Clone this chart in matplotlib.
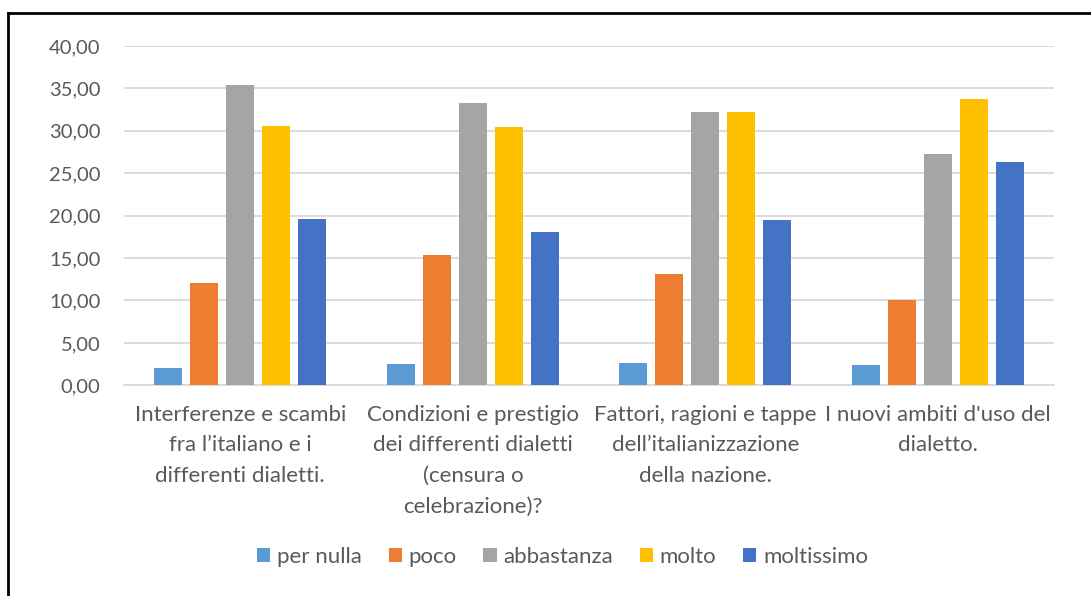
import matplotlib.pyplot as plt
import numpy as np
from matplotlib.ticker import FuncFormatter, MultipleLocator
from matplotlib.lines import Line2D

plt.rcParams['font.family'] = ['Lato', 'DejaVu Sans']

# dati
categories = [
    "Interferenze e scambi\nfra l\u2019italiano e i\ndifferenti dialetti.",
    "Condizioni e prestigio\ndei differenti dialetti\n(censura o\ncelebrazione)?",
    "Fattori, ragioni e tappe\ndell\u2019italianizzazione\ndella nazione.",
    "I nuovi ambiti d'uso del\ndialetto.",
]
series_names = ['per nulla', 'poco', 'abbastanza', 'molto', 'moltissimo']
per_nulla = [2.07, 2.55, 2.63, 2.43]
poco = [12.06, 15.37, 13.16, 10.10]
abbastanza = [35.37, 33.25, 32.26, 27.27]
molto = [30.54, 30.50, 32.26, 33.70]
moltissimo = [19.60, 18.08, 19.46, 26.30]
series_values = [per_nulla, poco, abbastanza, molto, moltissimo]

colors = ['#5B9BD5', '#ED7D31', '#A5A5A5', '#FFC000', '#4472C4']
text_color = '#595959'
grid_color = '#D9D9D9'

fig = plt.figure(figsize=(10.91, 5.96), dpi=100)
ax = fig.add_axes([0.1137, 0.3535, 0.8525, 0.5693])

x = np.arange(len(categories))
step = 0.1547
width = 0.1203
for i, (name, vals) in enumerate(zip(series_names, series_values)):
    ax.bar(x + (i - 2) * step, vals, width, label=name, color=colors[i], zorder=3)

ax.set_xlim(-0.5, len(categories) - 0.5)
ax.set_ylim(0, 40)
ax.yaxis.set_major_locator(MultipleLocator(5))
ax.yaxis.set_major_formatter(FuncFormatter(lambda v, p: f"{v:.2f}".replace('.', ',')))
ax.set_xticks(x)
ax.set_xticklabels(categories, linespacing=1.66)

ax.tick_params(axis='y', length=0, pad=17, labelsize=14.5, labelcolor=text_color)
ax.tick_params(axis='x', length=0, pad=14, labelsize=16, labelcolor=text_color)

ax.grid(axis='y', color=grid_color, linewidth=1.3, zorder=0)
for side in ['top', 'right', 'left']:
    ax.spines[side].set_visible(False)
ax.spines['bottom'].set_color(grid_color)
ax.spines['bottom'].set_linewidth(1.3)

leg = ax.legend(loc='center', bbox_to_anchor=(0.5156, 0.0654), bbox_transform=fig.transFigure,
                ncol=5, frameon=False, fontsize=16, handlelength=0.6, handleheight=0.6,
                handletextpad=0.3, columnspacing=1.2)
for t in leg.get_texts():
    t.set_color(text_color)

# cornice del grafico (solo sinistra e sopra visibili)
fig.add_artist(Line2D([8 / 1091, 8 / 1091], [0, 1 - 13 / 596], transform=fig.transFigure,
                      color='black', linewidth=2))
fig.add_artist(Line2D([8 / 1091, 1], [1 - 13 / 596, 1 - 13 / 596], transform=fig.transFigure,
                      color='black', linewidth=2))

fig.savefig('out.png', dpi=100)
